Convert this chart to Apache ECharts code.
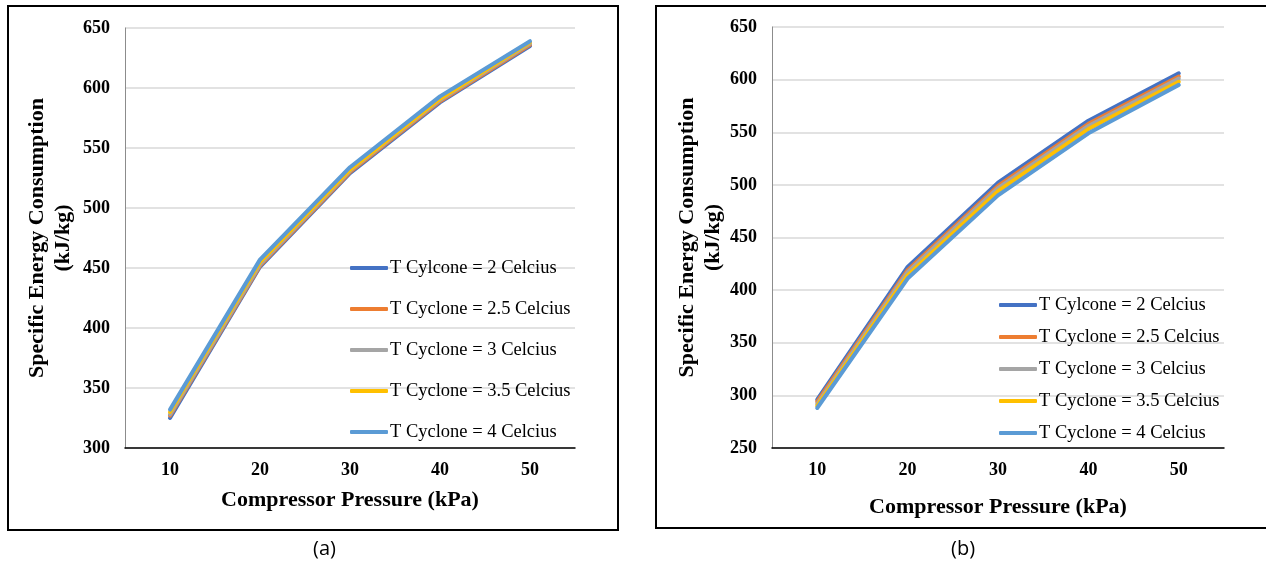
<!DOCTYPE html>
<html>
<head>
<meta charset="utf-8">
<script src="https://cdn.jsdelivr.net/npm/echarts@6/dist/echarts.min.js"></script>
<style>html,body{margin:0;padding:0;background:#fff}#c{width:1266px;height:564px}</style>
</head>
<body>
<div id="c"></div>
<script>
const categories = ['10', '20', '30', '40', '50'];
const seriesNames = ['T Cylcone = 2 Celcius', 'T Cyclone = 2.5 Celcius', 'T Cyclone = 3 Celcius', 'T Cyclone = 3.5 Celcius', 'T Cyclone = 4 Celcius'];
const colors = ['#4472C4', '#ED7D31', '#A5A5A5', '#FFC000', '#5B9BD5'];
// Chart (a)
const a_T2   = [325, 451, 529, 588, 635];
const a_T2_5 = [327, 452, 530, 589, 636];
const a_T3   = [328, 453, 531, 590, 637];
const a_T3_5 = [330, 455, 532, 591, 638];
const a_T4   = [332, 457, 534, 593, 639];
// Chart (b)
const b_T2   = [296, 422, 502, 561, 606];
const b_T2_5 = [294, 419, 499, 558, 603];
const b_T3   = [292, 417, 497, 556, 601];
const b_T3_5 = [290, 414, 494, 553, 598];
const b_T4   = [288, 411, 490, 549, 595];
const aData = [a_T2, a_T2_5, a_T3, a_T3_5, a_T4];
const bData = [b_T2, b_T2_5, b_T3, b_T3_5, b_T4];

const serif = 'Liberation Serif, Times New Roman, serif';
const chart = echarts.init(document.getElementById('c'));

function yAxis(idx, min, gap) {
  return {
    type: 'value', gridIndex: idx, min: min, max: 650, interval: 50,
    name: 'Specific Energy Consumption\n(kJ/kg)', nameLocation: 'middle', nameGap: gap, nameRotate: 90,
    nameTextStyle: { fontFamily: serif, fontWeight: 'bold', fontSize: 22, color: '#000', lineHeight: 26 },
    axisLine: { show: true, lineStyle: { color: '#8c8c8c', width: 1 } },
    axisTick: { show: false },
    axisLabel: { fontFamily: serif, fontWeight: 'bold', fontSize: 18, color: '#000', margin: 15 },
    splitLine: { lineStyle: { color: '#d9d9d9', width: 1.5 } }
  };
}
function xAxis(idx, gap) {
  return {
    type: 'category', gridIndex: idx, data: categories, boundaryGap: true,
    name: 'Compressor Pressure (kPa)', nameLocation: 'middle', nameGap: gap,
    nameTextStyle: { fontFamily: serif, fontWeight: 'bold', fontSize: 22, color: '#000' },
    axisLine: { show: true, lineStyle: { color: '#000', width: 1.5 } },
    axisTick: { show: false },
    axisLabel: { fontFamily: serif, fontWeight: 'bold', fontSize: 18, color: '#000', margin: 13 }
  };
}
function legend(left, top, gap) {
  return {
    orient: 'vertical', left: left, top: top, itemGap: gap,
    itemWidth: 38, itemHeight: 4, icon: 'roundRect',
    data: seriesNames,
    textStyle: { fontFamily: serif, fontSize: 18.5, color: '#000', lineHeight: 20, padding: [0, 0, 0, -3] },
    selectedMode: false
  };
}
const series = [];
seriesNames.forEach((n, i) => {
  series.push({ name: n, type: 'line', xAxisIndex: 0, yAxisIndex: 0, data: aData[i], symbol: 'none',
    lineStyle: { width: 4, color: colors[i], cap: 'round' }, itemStyle: { color: colors[i] }, animation: false });
});
seriesNames.forEach((n, i) => {
  series.push({ name: n, type: 'line', xAxisIndex: 1, yAxisIndex: 1, data: bData[i], symbol: 'none',
    lineStyle: { width: 4, color: colors[i], cap: 'round' }, itemStyle: { color: colors[i] }, animation: false });
});

chart.setOption({
  animation: false,
  backgroundColor: '#fff',
  grid: [
    { left: 125, top: 28, width: 450, height: 420 },
    { left: 772, top: 27, width: 452, height: 421 }
  ],
  xAxis: [xAxis(0, 41), xAxis(1, 48)],
  yAxis: [yAxis(0, 300, 49), yAxis(1, 250, 46)],
  legend: [legend(345, 253, 21), legend(994, 290, 12)],
  series: series,
  graphic: [
    { type: 'rect', shape: { x: 8, y: 6, width: 610, height: 524 }, style: { fill: 'none', stroke: '#000', lineWidth: 2 }, silent: true },
    { type: 'rect', shape: { x: 656, y: 6, width: 620, height: 522 }, style: { fill: 'none', stroke: '#000', lineWidth: 2 }, silent: true },
    { type: 'text', left: 313, top: 539, style: { text: '(a)', font: '20px "Open Sans", sans-serif', fill: '#000' } },
    { type: 'text', left: 951, top: 539, style: { text: '(b)', font: '20px "Open Sans", sans-serif', fill: '#000' } }
  ]
});
</script>
</body>
</html>
